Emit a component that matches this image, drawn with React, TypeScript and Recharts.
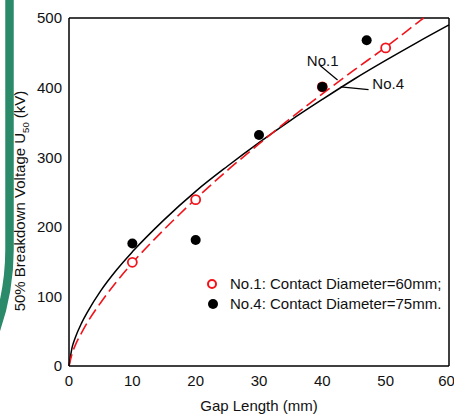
import {
  ComposedChart,
  Line,
  Scatter,
  XAxis,
  YAxis,
  ReferenceLine,
  ReferenceDot,
  Legend,
} from 'recharts';

// axis ticks
const gapTicks = [0, 10, 20, 30, 40, 50, 60];
const voltTicks = [0, 100, 200, 300, 400, 500];

// measured points
const no1Gap = [10, 20, 40, 50];
const no1Volt = [149, 239, 401, 457];
const no4Gap = [10, 20, 30, 40, 47];
const no4Volt = [176, 181, 332, 401, 468];

// fitted curves
const fitNo1Gap = [0, 0.5, 1, 2, 3, 5, 7.5, 10, 15, 20, 25, 30, 35, 40, 45, 50, 55, 56];
const fitNo1Volt = [0, 18, 30, 48, 64, 91, 121, 148, 196, 240, 281, 319, 356, 391, 425, 458, 493, 500];
const fitNo4Gap = [0, 0.5, 1, 2, 3, 5, 7.5, 10, 15, 20, 25, 30, 35, 40, 45, 50, 55, 60];
const fitNo4Volt = [0, 27, 41, 62, 79, 108, 138, 164, 210, 251, 287, 321, 353, 383, 412, 439, 465, 490];

const legendItems = ['No.1: Contact Diameter=60mm;', 'No.4: Contact Diameter=75mm.'];

const FONT = '"Liberation Sans", Arial, sans-serif';
const RED = '#f2141b';

const toPts = (xs: number[], ys: number[]) => xs.map((x, i) => ({ gap: x, volt: ys[i] }));

const no1Pts = toPts(no1Gap, no1Volt);
const no4Pts = toPts(no4Gap, no4Volt);
const fitNo1 = toPts(fitNo1Gap, fitNo1Volt);
const fitNo4 = toPts(fitNo4Gap, fitNo4Volt);

const OpenDot = (p: any) => (
  <circle cx={p.cx} cy={p.cy} r={4.5} fill="#fff" stroke={RED} strokeWidth={1.8} />
);
const FullDot = (p: any) => <circle cx={p.cx} cy={p.cy} r={5} fill="#000" />;

const YLabel = () => (
  <text transform="translate(25,201) rotate(-90)" textAnchor="middle" fontSize={15} fontFamily={FONT} fill="#111">
    50% Breakdown Voltage U<tspan fontSize={9.5} dy={4}>50</tspan>
    <tspan dy={-4}> (kV)</tspan>
  </text>
);

const XLabel = () => (
  <text x={259} y={411} textAnchor="middle" fontSize={15} fontFamily={FONT} fill="#111">
    Gap Length (mm)
  </text>
);

const LegendBox = () => (
  <div style={{ fontFamily: FONT, fontSize: 15, color: '#111', lineHeight: '20px' }}>
    {legendItems.map((t, i) => (
      <div key={t} style={{ display: 'flex', alignItems: 'center', whiteSpace: 'nowrap' }}>
        <svg width={26} height={20}>
          {i === 0 ? (
            <circle cx={8} cy={10} r={4} fill="#fff" stroke={RED} strokeWidth={2} />
          ) : (
            <circle cx={9} cy={10} r={5} fill="#000" />
          )}
        </svg>
        <span>{t}</span>
      </div>
    ))}
  </div>
);

export default function App() {
  return (
    <div style={{ position: 'absolute', left: 0, top: 0, width: 454, height: 414, overflow: 'hidden', background: '#fff' }}>
      <svg width={20} height={340} style={{ position: 'absolute', left: 0, top: 0 }}>
        <path d="M9.5 0 L9.5 250 Q9.5 290 -4 330" stroke="#2b8a6a" strokeWidth={8.5} fill="none" />
      </svg>
      <ComposedChart
        width={454}
        height={414}
        margin={{ top: 18, right: 5, bottom: 0, left: 0 }}
        style={{ position: 'absolute', left: 0, top: 0 }}
      >
        <XAxis
          type="number"
          dataKey="gap"
          domain={[0, 60]}
          ticks={gapTicks}
          height={48}
          tickLine={false}
          tickSize={7}
          tickMargin={2}
          stroke="#000"
          strokeWidth={1.5}
          tick={{ fill: '#111', fontSize: 15, fontFamily: FONT }}
          label={<XLabel />}
        />
        <YAxis
          type="number"
          dataKey="volt"
          domain={[0, 500]}
          ticks={voltTicks}
          width={69}
          tickLine={false}
          tickSize={5}
          tickMargin={2}
          stroke="#000"
          strokeWidth={1.5}
          tick={{ fill: '#111', fontSize: 15, fontFamily: FONT }}
          label={<YLabel />}
        />
        <ReferenceLine y={500} stroke="#000" strokeWidth={1.5} />
        <ReferenceLine x={60} stroke="#000" strokeWidth={1.5} />
        <Line
          data={fitNo4}
          dataKey="volt"
          type="monotone"
          stroke="#000"
          strokeWidth={1.5}
          dot={false}
          isAnimationActive={false}
        />
        <Line
          data={fitNo1}
          dataKey="volt"
          type="monotone"
          stroke={RED}
          strokeWidth={1.6}
          strokeDasharray="12 5"
          dot={false}
          isAnimationActive={false}
        />
        <Scatter data={no1Pts} dataKey="volt" shape={OpenDot} isAnimationActive={false} />
        <Scatter data={no4Pts} dataKey="volt" shape={FullDot} isAnimationActive={false} />
        <ReferenceLine segment={[{ x: 39.6, y: 432 }, { x: 42.4, y: 411 }]} stroke="#000" strokeWidth={1.2} />
        <ReferenceLine segment={[{ x: 42.9, y: 401 }, { x: 47.3, y: 397 }]} stroke="#000" strokeWidth={1.2} />
        <ReferenceDot
          x={40.05}
          y={438}
          r={0}
          stroke="none"
          label={{ value: 'No.1', position: 'center', fontSize: 15, fontFamily: FONT, fill: '#111' }}
        />
        <ReferenceDot
          x={50.4}
          y={405}
          r={0}
          stroke="none"
          label={{ value: 'No.4', position: 'center', fontSize: 15, fontFamily: FONT, fill: '#111' }}
        />
        <Legend
          layout="vertical"
          align="center"
          verticalAlign="middle"
          content={<LegendBox />}
          wrapperStyle={{ left: 204, top: 274, width: 'auto' }}
        />
      </ComposedChart>
    </div>
  );
}
